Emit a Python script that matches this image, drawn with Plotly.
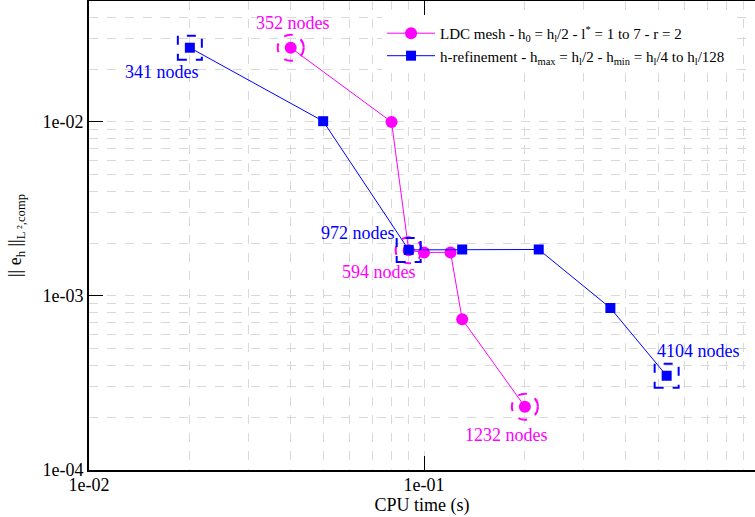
import math
import plotly.graph_objects as go

# data
ldc_time = [0.04, 0.08, 0.09, 0.10, 0.12, 0.13, 0.20]
ldc_err = [0.0267, 0.0100, 0.00183, 0.00178, 0.00178, 0.000735, 0.000231]
href_time = [0.02, 0.05, 0.09, 0.13, 0.22, 0.36, 0.53]
href_err = [0.0267, 0.0101, 0.00184, 0.00185, 0.00185, 0.000853, 0.000348]

ldc_label_idx = [0, 2, 6]
ldc_labels = ["352 nodes", "594 nodes", "1232 nodes"]
href_label_idx = [0, 2, 6]
href_labels = ["341 nodes", "972 nodes", "4104 nodes"]

x_tickvals = [0.01, 0.1, 1.0]
x_ticktext = ["1e-02", "1e-01", "1e+00"]
y_tickvals = [1e-4, 1e-3, 1e-2]
y_ticktext = ["1e-04", "1e-03", "1e-02"]

MAG = "#ff00ff"
BLUE = "#0000ff"
FONT = "Liberation Serif, Times New Roman, serif"

# axis geometry (px per decade) used only to size the highlight shapes
X_RANGE = [-2, -0.012]
Y_RANGE = [-4, -1.305]
PLOT_W = 755 - 89
PLOT_H = 517 - 1 - 47
XPX = PLOT_W / (X_RANGE[1] - X_RANGE[0])
YPX = PLOT_H / (Y_RANGE[1] - Y_RANGE[0])

fig = go.Figure()
fig.add_trace(go.Scatter(
    x=ldc_time, y=ldc_err, mode="lines+markers",
    name="LDC mesh - h<sub>0</sub> = h<sub>l</sub>/2 - l<sup>*</sup> = 1 to 7 - r = 2",
    line=dict(color=MAG, width=1), marker=dict(symbol="circle", size=12, color=MAG)))
fig.add_trace(go.Scatter(
    x=href_time, y=href_err, mode="lines+markers",
    name="h-refinement - h<sub>max</sub> = h<sub>l</sub>/2 - h<sub>min</sub> = h<sub>l</sub>/4 to h<sub>l</sub>/128",
    line=dict(color=BLUE, width=1), marker=dict(symbol="square", size=10, color=BLUE)))


def box(xv, yv, half):
    fx = 10 ** (half / XPX)
    fy = 10 ** (half / YPX)
    return dict(x0=xv / fx, x1=xv * fx, y0=yv / fy, y1=yv * fy)


for i in ldc_label_idx:
    fig.add_shape(type="circle", xref="x", yref="y", **box(ldc_time[i], ldc_err[i], 13),
                  line=dict(color=MAG, width=2, dash="dash"))
for i in href_label_idx:
    fig.add_shape(type="rect", xref="x", yref="y", **box(href_time[i], href_err[i], 12),
                  line=dict(color=BLUE, width=2, dash="dash"))

ldc_offsets = [(2, 25), (-30, -22), (-18, -28)]
href_offsets = [(-28, -24), (-51, 17), (32, 25)]
for i, lab, (dx, dy) in zip(ldc_label_idx, ldc_labels, ldc_offsets):
    fig.add_annotation(x=math.log10(ldc_time[i]), y=math.log10(ldc_err[i]), text=lab,
                       showarrow=False, xshift=dx, yshift=dy,
                       font=dict(family=FONT, size=18, color=MAG))
for i, lab, (dx, dy) in zip(href_label_idx, href_labels, href_offsets):
    fig.add_annotation(x=math.log10(href_time[i]), y=math.log10(href_err[i]), text=lab,
                       showarrow=False, xshift=dx, yshift=dy,
                       font=dict(family=FONT, size=18, color=BLUE))

GRID = "#d9d9d9"
fig.update_xaxes(type="log", range=X_RANGE, tickvals=x_tickvals, ticktext=x_ticktext,
                 ticks="inside", ticklen=14, tickcolor="black", showline=True, linecolor="black",
                 linewidth=2, mirror="allticks", showgrid=False, zeroline=False, automargin=False,
                 ticklabelstandoff=-3,
                 minor=dict(dtick="D1", showgrid=True, gridcolor=GRID, griddash="dash", ticks=""),
                 title=dict(text="CPU time (s)", font=dict(family=FONT, size=18, color="black"), standoff=2),
                 tickfont=dict(family=FONT, size=18, color="black"))
fig.update_yaxes(type="log", range=Y_RANGE, tickvals=y_tickvals, ticktext=y_ticktext,
                 ticks="inside", ticklen=14, tickcolor="black", showline=True, linecolor="black",
                 linewidth=2, showgrid=True, gridcolor=GRID, griddash="dash", zeroline=False,
                 automargin=False,
                 minor=dict(dtick="D1", showgrid=True, gridcolor=GRID, griddash="dash", ticks=""),
                 title=dict(text="|| e<sub>h</sub> ||<sub>L ²,comp</sub>", font=dict(family=FONT, size=18, color="black"), standoff=16),
                 tickfont=dict(family=FONT, size=18, color="black"))

fig.update_layout(
    width=755, height=517, plot_bgcolor="white", paper_bgcolor="white",
    margin=dict(l=89, r=0, t=1, b=47),
    font=dict(family=FONT, size=15, color="black"),
    legend=dict(x=0.44, y=0.966, xanchor="left", yanchor="top", bgcolor="rgba(255,255,255,1)",
                itemwidth=48,
                font=dict(family=FONT, size=15, color="black"), tracegroupgap=0),
)
fig.write_html("out.html", config={"displayModeBar": False},
               post_script="document.body.style.margin='0';")
